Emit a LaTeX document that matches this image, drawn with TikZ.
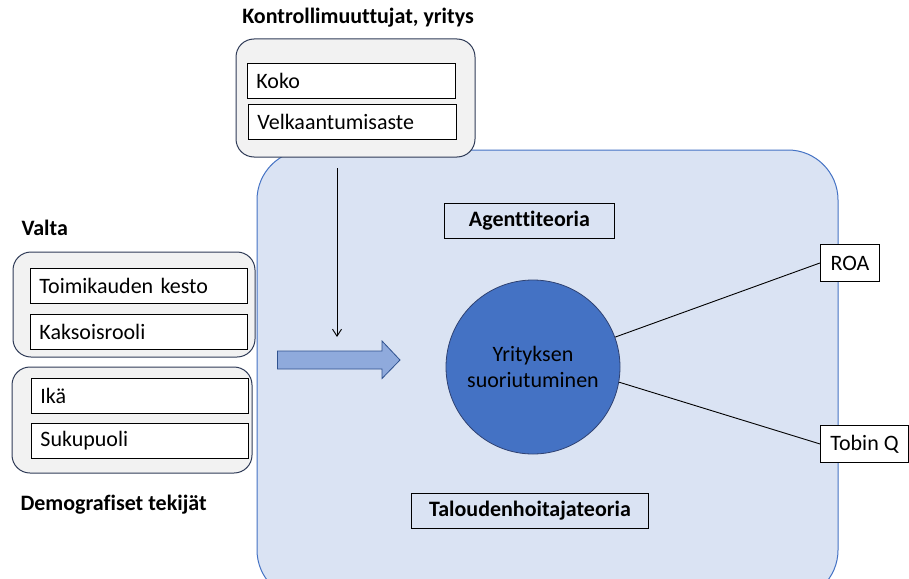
\documentclass[tikz,border=0pt]{standalone}
\usepackage{fontspec}
\setmainfont{Carlito}[Ligatures=NoCommon]
\usetikzlibrary{arrows.meta}
\definecolor{bgblue}{HTML}{DAE3F3}
\definecolor{edgeblue}{HTML}{4472C4}
\definecolor{grpfill}{HTML}{F2F2F2}
\definecolor{grpedge}{HTML}{2F3B57}
\definecolor{arrfill}{HTML}{8FAADC}
\definecolor{arredge}{HTML}{2F528F}
\definecolor{circedge}{HTML}{2F4272}
\tikzset{
  itembox/.style={draw=black, fill=white, line width=0.9pt, minimum height=35pt, text width=#1, inner xsep=9pt, align=left, anchor=north west, font=\fontsize{22}{26}\selectfont},
  grpbox/.style={draw=grpedge, fill=grpfill, line width=1pt, rounded corners=18pt},
  heading/.style={font=\bfseries\fontsize{22}{26}\selectfont, anchor=west},
  theorybox/.style={draw=black, line width=0.9pt, font=\bfseries\fontsize{22}{26}\selectfont, minimum height=35pt, anchor=north west},
  outbox/.style={draw=black, fill=white, line width=0.9pt, font=\fontsize{22}{26}\selectfont, minimum height=37pt, anchor=north west, inner xsep=7pt},
  link/.style={draw=black, line width=0.9pt}
}
\begin{document}
\begin{tikzpicture}[x=1pt,y=-1pt]
\useasboundingbox (0,0) rectangle (909,578);
% big background
\fill[bgblue, draw=edgeblue, line width=1pt, rounded corners=50pt] (257,150) rectangle (838,600);
\clip (0,0) rectangle (909,578);
% top group
\node[heading, anchor=center] (kt) at (358,18) {Kontrollimuuttujat, yritys};
\draw[grpbox] (236,39) rectangle (475,157);
\coordinate (topgrp) at (337,168);
\node[itembox=190pt] (koko) at (247,63) {Koko};
\node[itembox=190pt] (velk) at (248,104) {Velkaantumisaste};
% left groups
\node[heading] (valta) at (18,228) {Valta};
\draw[grpbox] (13,252) rectangle (255,357);
\node[itembox=199pt] (toim) at (30,268) {Toimikauden kesto};
\node[itembox=199pt] (kaks) at (30,314) {Kaksoisrooli};
\draw[grpbox] (12,367) rectangle (252,473);
\node[itembox=199pt] (ika) at (31,378) {Ikä};
\node[itembox=199pt] (suku) at (31,423) {Sukupuoli};
\node[heading] (demo) at (17,505) {Demografiset tekijät};
% block arrow
\filldraw[draw=arredge, fill=arrfill, line width=0.8pt, line join=miter]
  (277.5,351) -- (382,351) -- (382,341) -- (400,360) -- (382,378.5) -- (382,369) -- (277.5,369) -- cycle;
\coordinate (arrtop) at (337,337);
\draw[-{Straight Barb[length=7pt,width=9pt]}, line width=0.9pt] (topgrp) -- (arrtop);
% theories
\node[theorybox, minimum width=170pt] (agent) at (444,203) {Agenttiteoria};
\node[theorybox, minimum width=237pt] (talo) at (411,493) {Taloudenhoitajateoria};
% circle
\node[circle, draw=circedge, fill=edgeblue, line width=0.8pt, minimum size=174pt, align=center, font=\fontsize{22}{26}\selectfont, text=black] (perf) at (533,367) {Yrityksen\\suoriutuminen};
% outputs
\node[outbox, minimum width=59pt] (roa) at (820,244) {ROA};
\node[outbox, minimum width=88pt] (tobin) at (820,425) {Tobin Q};
\draw[link] (perf.20) -- (roa.west);
\draw[link] (perf.-10) -- (tobin.west);
\end{tikzpicture}
\end{document}
